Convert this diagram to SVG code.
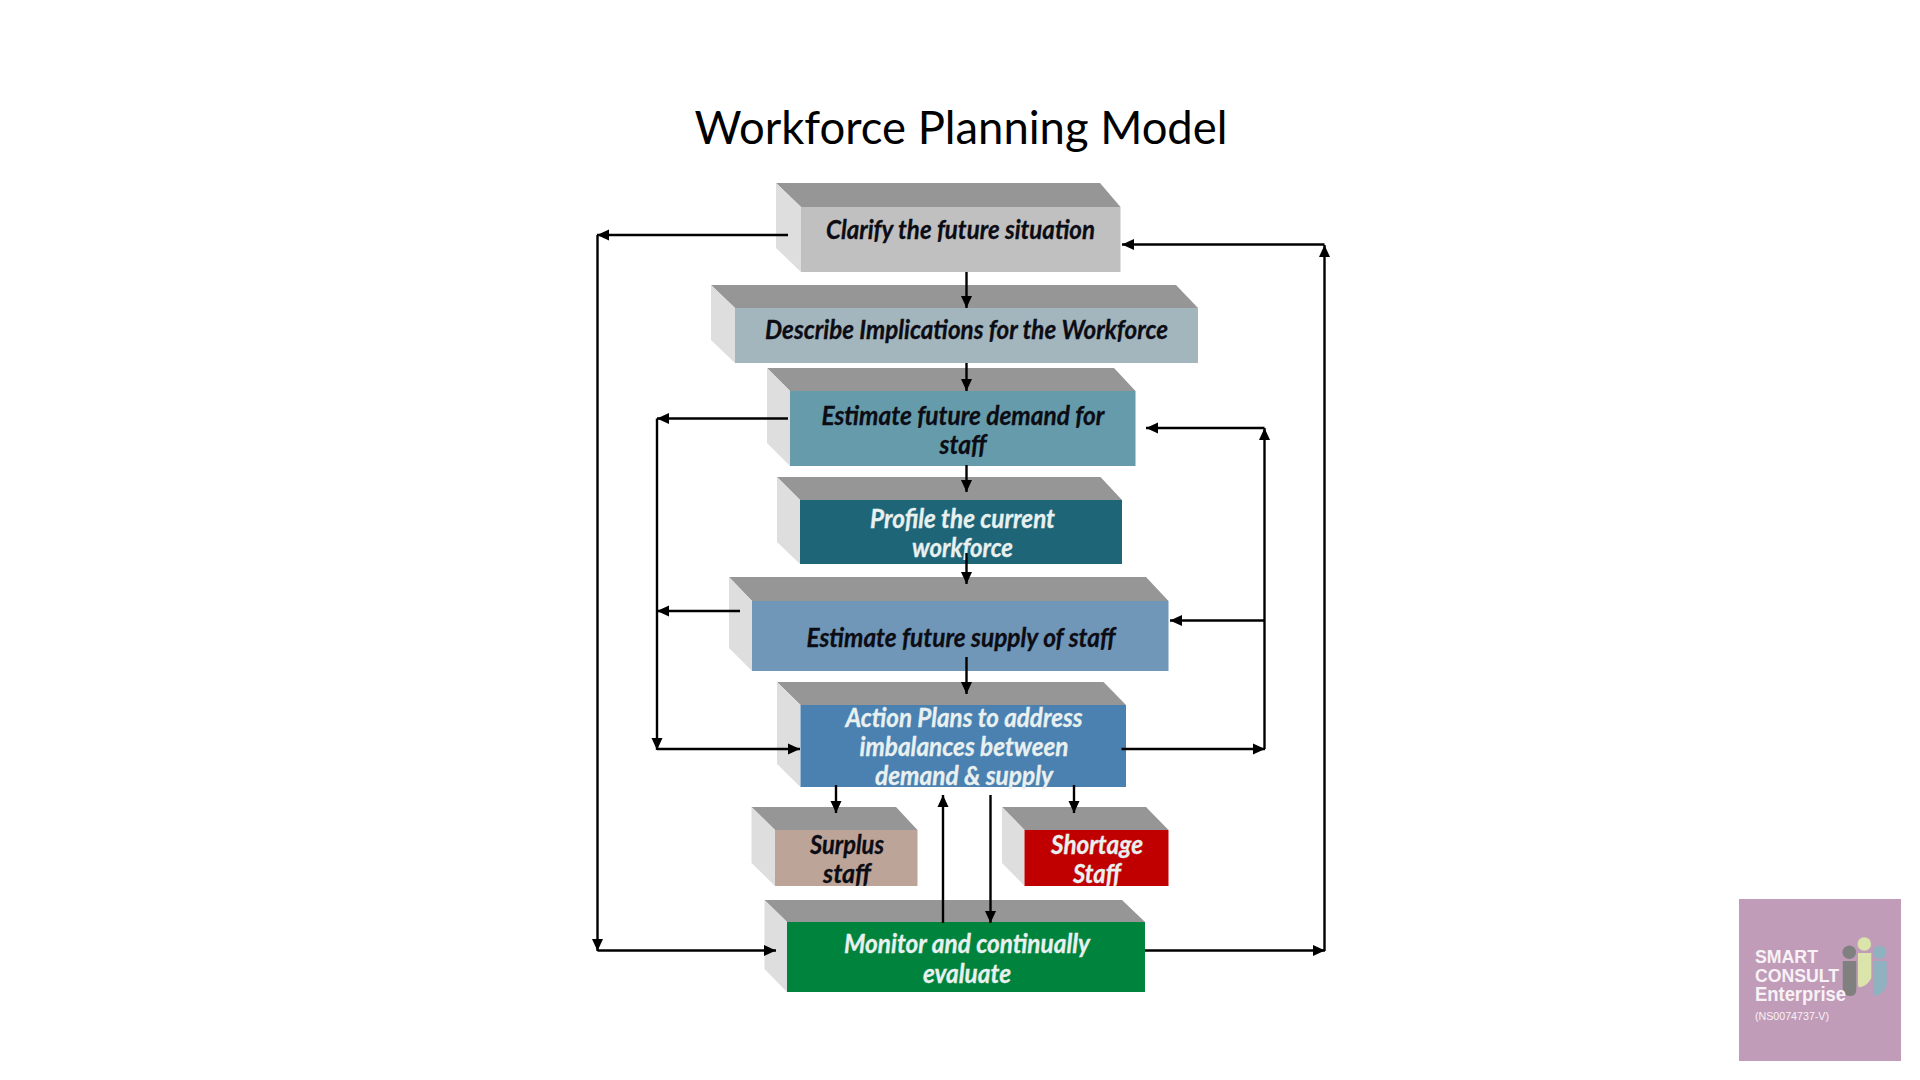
<svg xmlns="http://www.w3.org/2000/svg" width="1920" height="1080" viewBox="0 0 1920 1080">
<style>
.top{fill:#969696}.side{fill:#dedede}
.t{font-family:Lato,"Liberation Sans",sans-serif;font-style:italic;font-weight:700;font-size:26px;text-anchor:middle;fill:#0c0c14;stroke:#0c0c14;stroke-width:.3;transform:translateY(1px)}
.w{fill:#e9f0f0;stroke:#e9f0f0}
.c{fill:none;stroke:#000;stroke-width:2.400;marker-end:url(#a)}
.l{font-family:"Liberation Sans",Arial,sans-serif;fill:#f8f2f6}
</style>
<defs><marker id="a" markerUnits="userSpaceOnUse" markerWidth="12" markerHeight="12" refX="12" refY="6" orient="auto"><path d="M0,0.500L12,6L0,11.500Z" fill="#000"/></marker></defs>
<rect width="1920" height="1080" fill="#fff"/>
<text id="title" x="961" y="144" text-anchor="middle" font-family="Lato,'Liberation Sans',sans-serif" font-size="46" fill="#000" textLength="533" lengthAdjust="spacingAndGlyphs">Workforce Planning Model</text>

<g id="n1"><path class="top" d="M776,183H1100L1120.500,207H801Z"/><path class="side" d="M776,183L801,207V272L776,248Z"/><rect x="801" y="207" width="319.500" height="65" fill="#c0c0c0"/><text class="t" x="960.500" y="238" textLength="269" lengthAdjust="spacingAndGlyphs">Clarify the future situation</text></g>
<g id="n2"><path class="top" d="M711,285H1176L1198,308H735Z"/><path class="side" d="M711,285L735,308V363L711,340Z"/><rect x="735" y="308" width="463" height="55" fill="#a3b5bd"/><text class="t" x="966.500" y="338" textLength="403" lengthAdjust="spacingAndGlyphs">Describe Implications for the Workforce</text></g>
<g id="n3"><path class="top" d="M767,368H1114L1135.500,391H790Z"/><path class="side" d="M767,368L790,391V466L767,443Z"/><rect x="790" y="391" width="345.500" height="75" fill="#659baa"/><text class="t" x="963" y="424" textLength="283" lengthAdjust="spacingAndGlyphs">Estimate future demand for</text><text class="t" x="963" y="453" textLength="47" lengthAdjust="spacingAndGlyphs">staff</text></g>
<g id="n4"><path class="top" d="M777,477H1100.500L1122,500H800Z"/><path class="side" d="M777,477L800,500V564L777,542Z"/><rect x="800" y="500" width="322" height="64" fill="#1e6677"/><text class="t w" x="962.500" y="527" textLength="185" lengthAdjust="spacingAndGlyphs">Profile the current</text><text class="t w" x="962.500" y="556" textLength="101" lengthAdjust="spacingAndGlyphs">workforce</text></g>
<g id="n5"><path class="top" d="M729,577H1146L1168.500,601H752Z"/><path class="side" d="M729,577L752,601V671L729,648Z"/><rect x="752" y="601" width="416.500" height="70" fill="#7096b8"/><text class="t" x="961" y="646" textLength="309" lengthAdjust="spacingAndGlyphs">Estimate future supply of staff</text></g>
<g id="n6"><path class="top" d="M777,682H1103.500L1126,705H800.500Z"/><path class="side" d="M777,682L800.500,705V787L777,764Z"/><rect x="800.500" y="705" width="325.500" height="82" fill="#4a81b0"/><text class="t w" x="964" y="726" textLength="237" lengthAdjust="spacingAndGlyphs">Action Plans to address</text><text class="t w" x="964" y="755" textLength="209" lengthAdjust="spacingAndGlyphs">imbalances between</text><text class="t w" x="964" y="784" textLength="178" lengthAdjust="spacingAndGlyphs">demand &amp; supply</text></g>
<g id="n7"><path class="top" d="M751.500,807H896L917.500,830H775Z"/><path class="side" d="M751.500,807L775,830V886L751.500,863Z"/><rect x="775" y="830" width="142.500" height="56" fill="#bda498"/><text class="t" x="847" y="853" textLength="74" lengthAdjust="spacingAndGlyphs">Surplus</text><text class="t" x="847" y="882" textLength="48" lengthAdjust="spacingAndGlyphs">staff</text></g>
<g id="n8"><path class="top" d="M1002,807H1146L1168.500,830H1024.500Z"/><path class="side" d="M1002,807L1024.500,830V886L1002,863Z"/><rect x="1024.500" y="830" width="144" height="56" fill="#c00000"/><text class="t w" x="1097" y="853" textLength="92" lengthAdjust="spacingAndGlyphs">Shortage</text><text class="t w" x="1097" y="882" textLength="48" lengthAdjust="spacingAndGlyphs">Staff</text></g>
<g id="n9"><path class="top" d="M764.500,900H1122L1145,922H787Z"/><path class="side" d="M764.500,900L787,922V992L764.500,969Z"/><rect x="787" y="922" width="358" height="70" fill="#00843d"/><text class="t w" x="967" y="952" textLength="246" lengthAdjust="spacingAndGlyphs">Monitor and continually</text><text class="t w" x="967" y="982" textLength="88" lengthAdjust="spacingAndGlyphs">evaluate</text></g>

<g id="connectors">
<path class="c" d="M966.500,272V308"/><path class="c" d="M966.500,363V391"/><path class="c" d="M966.500,465V492"/><path class="c" d="M966.500,553V584"/><path class="c" d="M966.500,657V694"/>
<path class="c" d="M836,785V813"/><path class="c" d="M1074,785V813"/>
<path class="c" d="M943,923V795"/><path class="c" d="M990.500,795V923"/>
<path class="c" d="M788,235H597"/><path class="c" d="M597.500,235V951"/><path class="c" d="M597.500,950.500H776"/>
<path class="c" d="M1145,950.500H1325"/><path class="c" d="M1324.500,951V245"/><path class="c" d="M1324.500,244.500H1122"/>
<path class="c" d="M788,418.500H657"/><path class="c" d="M657,418.500V750"/><path class="c" d="M657,749H800"/><path class="c" d="M740,611H657"/>
<path class="c" d="M1121.500,749H1265"/><path class="c" d="M1264.500,749V428"/><path class="c" d="M1264.500,428H1146"/><path class="c" d="M1264.500,620.500H1170"/>
</g>

<g id="logo"><rect x="1739" y="899" width="162" height="162" fill="#c09cb9"/>
<circle cx="1849.300" cy="952.300" r="6.800" fill="#808080"/><path d="M1842.700,961H1856.300V990Q1856.300,996 1849.500,996Q1842.700,996 1842.700,988Z" fill="#808080"/>
<circle cx="1864.300" cy="944" r="6.800" fill="#dbe5ab"/><path d="M1858,953H1871.300V978Q1868,985 1861,987Q1858,988 1858,984Z" fill="#dbe5ab"/>
<circle cx="1879.700" cy="952.300" r="6.800" fill="#8fb1c0"/><path d="M1873.300,961H1886.700V985Q1884,993 1876,996Q1873.300,996 1873.300,992Z" fill="#8fb1c0"/>
<text class="l" x="1755" y="962.500" font-size="19" font-weight="700" textLength="63" lengthAdjust="spacingAndGlyphs">SMART</text><text class="l" x="1755" y="981.500" font-size="19" font-weight="700" textLength="84" lengthAdjust="spacingAndGlyphs">CONSULT</text><text class="l" x="1755" y="1001" font-size="19.500" font-weight="700" textLength="91" lengthAdjust="spacingAndGlyphs">Enterprise</text><text class="l" x="1755" y="1020" font-size="11" textLength="74" lengthAdjust="spacingAndGlyphs">(NS0074737-V)</text></g>
</svg>
